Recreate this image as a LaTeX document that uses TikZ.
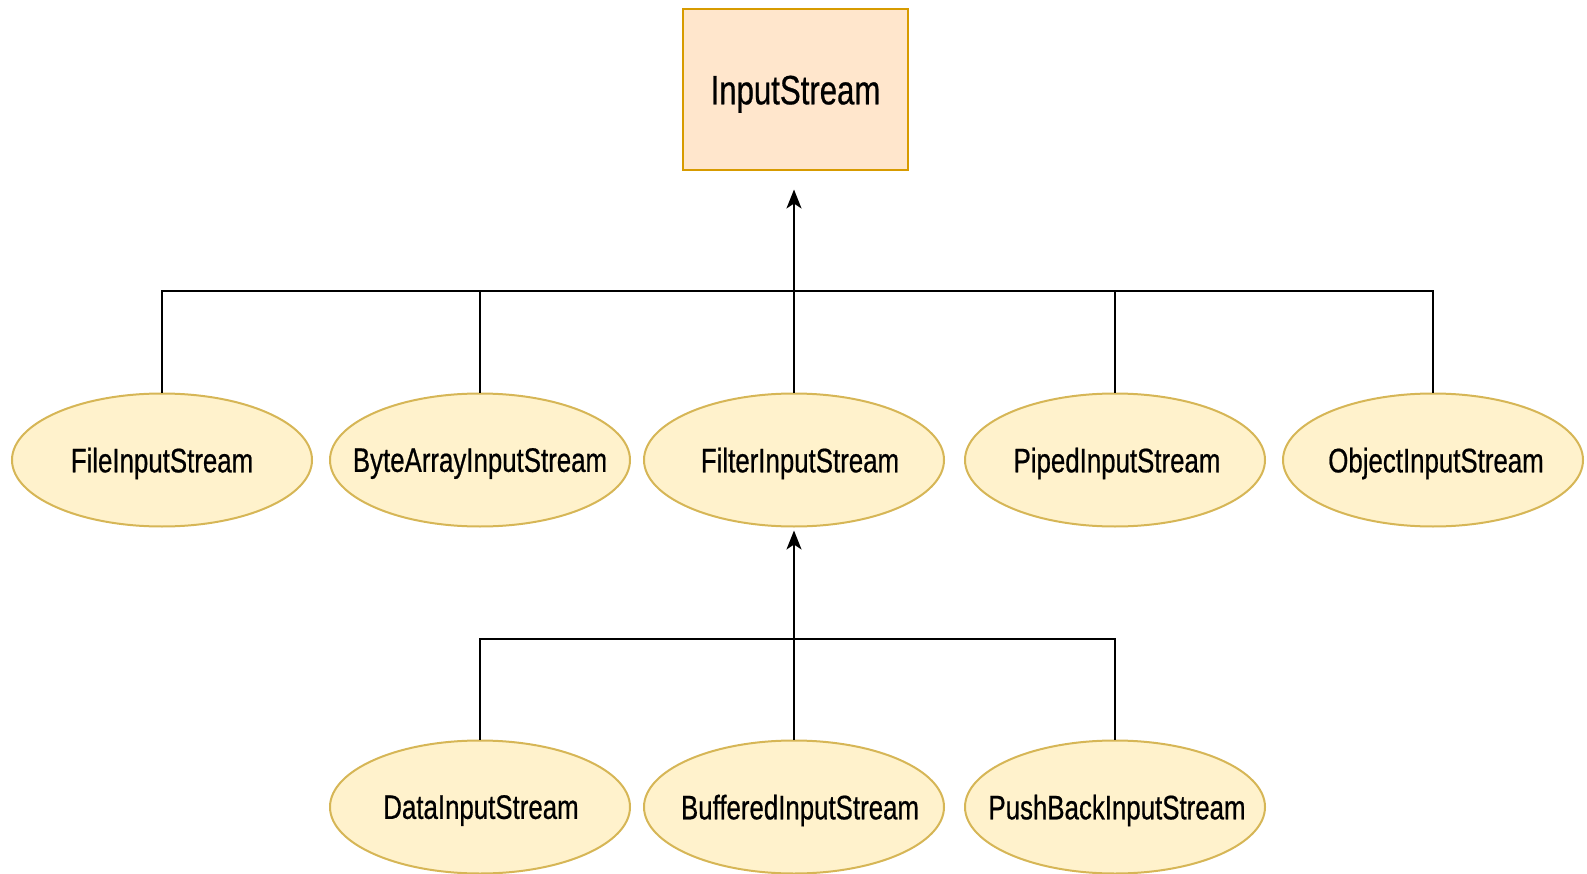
\documentclass[tikz,border=0pt]{standalone}
\usepackage{fontspec}
\setmainfont{Liberation Sans}[FakeStretch=0.76,FakeBold=0.6]
\usetikzlibrary{shapes.geometric,arrows.meta}
\definecolor{boxfill}{HTML}{FFE6CC}
\definecolor{boxline}{HTML}{D79B00}
\definecolor{ellfill}{HTML}{FFF2CC}
\definecolor{ellline}{HTML}{D6B656}
\newcommand{\clsname}[2][0pt]{\makebox[0pt]{\hspace{#1}#2}}
\tikzset{
  rootbox/.style={draw=boxline, fill=boxfill, line width=2pt, minimum width=225pt, minimum height=161pt, inner sep=0pt, text depth=0pt, font=\fontsize{41}{48}\selectfont},
  classell/.style={ellipse, draw=ellline, fill=ellfill, line width=2pt, minimum width=300pt, minimum height=133pt, inner sep=0pt, text depth=0pt, font=\fontsize{34}{40}\selectfont},
  link/.style={draw=black, line width=2pt},
  inherit/.style={link, -{Stealth[length=19pt,width=15pt,inset=5pt]}}
}
\begin{document}
\begin{tikzpicture}[x=1pt,y=-1pt]
\useasboundingbox (0,0) rectangle (1587,874);
\node[rootbox] (root) at (795.5,90) {\clsname{InputStream}};
\node[classell] (file) at (162,460) {\clsname{FileInputStream}};
\node[classell] (byte) at (480,460) {\clsname{ByteArrayInputStream}};
\node[classell] (filter) at (794,460) {\clsname[12pt]{FilterInputStream}};
\node[classell] (piped) at (1115,460) {\clsname[4pt]{PipedInputStream}};
\node[classell] (obj) at (1433,460) {\clsname[6pt]{ObjectInputStream}};
\node[classell] (data) at (480,807) {\clsname[2pt]{DataInputStream}};
\node[classell] (buff) at (794,807) {\clsname[12pt]{BufferedInputStream}};
\node[classell] (push) at (1115,807) {\clsname[4pt]{PushBackInputStream}};
\coordinate (bus) at (794,291.5);
\coordinate (bustwo) at (794,638.5);
% top level
\draw[link] (file.north) -- (file.north |- bus) -- (obj.north |- bus) -- (obj.north);
\draw[link] (byte.north) -- (byte.north |- bus);
\draw[link] (piped.north) -- (piped.north |- bus);
\draw[inherit, shorten >=18pt] (filter.north) -- (filter.north |- root.south);
% second level
\draw[link] (data.north) -- (data.north |- bustwo) -- (push.north |- bustwo) -- (push.north);
\draw[inherit, shorten >=3pt] (buff.north) -- (filter.south);
\end{tikzpicture}
\end{document}
